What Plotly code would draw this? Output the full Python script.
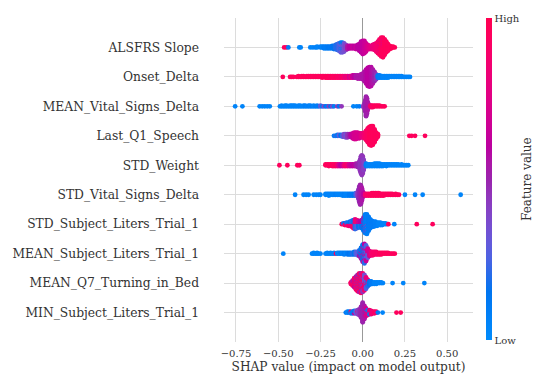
import math
import plotly.graph_objects as go

# ---------------- data ----------------
# each feature: list of (SHAP value, number of points at that value, feature value 0=low..1=high)
features = [
    "ALSFRS Slope", "Onset_Delta", "MEAN_Vital_Signs_Delta", "Last_Q1_Speech",
    "STD_Weight", "STD_Vital_Signs_Delta", "STD_Subject_Liters_Trial_1",
    "MEAN_Subject_Liters_Trial_1", "MEAN_Q7_Turning_in_Bed", "MIN_Subject_Liters_Trial_1",
]

alsfrs_slope = [
    (-0.465, 1, 0.95), (-0.452, 1, 0.95), (-0.440, 1, 0.10),
    (-0.375, 1, 0.05), (-0.367, 1, 0.05),
    (-0.310, 1, 0.05), (-0.295, 1, 0.05), (-0.280, 1, 0.08), (-0.270, 2, 0.05),
    (-0.250, 2, 0.08), (-0.240, 2, 0.05), (-0.230, 3, 0.10), (-0.220, 3, 0.08), (-0.210, 3, 0.10),
    (-0.200, 3, 0.12), (-0.190, 3, 0.10), (-0.180, 4, 0.15), (-0.170, 5, 0.15), (-0.160, 6, 0.20),
    (-0.150, 8, 0.20), (-0.140, 10, 0.25), (-0.130, 9, 0.30), (-0.130, 4, 0.10), (-0.120, 9, 0.32),
    (-0.120, 4, 0.12), (-0.110, 11, 0.35), (-0.100, 7, 0.40),
    (-0.090, 5, 0.55), (-0.080, 4, 0.60), (-0.070, 4, 0.60), (-0.060, 4, 0.65), (-0.050, 4, 0.60),
    (-0.040, 5, 0.65), (-0.030, 6, 0.60), (-0.020, 9, 0.60),
    (-0.010, 14, 0.60), (0.000, 17, 0.62), (0.010, 16, 0.65), (0.020, 11, 0.68),
    (0.030, 6, 0.72), (0.040, 5, 0.75), (0.050, 5, 0.78), (0.060, 6, 0.80), (0.070, 8, 0.82),
    (0.080, 11, 0.85), (0.090, 15, 0.88), (0.100, 16, 0.92), (0.100, 4, 0.70), (0.110, 24, 0.93),
    (0.120, 21, 0.95), (0.120, 4, 0.75), (0.130, 20, 0.95), (0.140, 14, 0.95), (0.150, 9, 0.95),
    (0.160, 5, 0.95), (0.170, 3, 0.97), (0.180, 2, 0.97), (0.190, 1, 0.97),
]

onset_delta = [
    (-0.473, 1, 0.95), (-0.430, 1, 0.95), (-0.420, 1, 0.95), (-0.410, 1, 0.95),
    (-0.390, 1, 0.95), (-0.380, 2, 0.95), (-0.370, 1, 0.95), (-0.360, 2, 0.95), (-0.350, 2, 0.95),
    (-0.340, 1, 0.95), (-0.330, 2, 0.95), (-0.320, 2, 0.95), (-0.310, 2, 0.95), (-0.300, 2, 0.95),
    (-0.290, 2, 0.95), (-0.280, 2, 0.95), (-0.270, 2, 0.95), (-0.260, 2, 0.95), (-0.250, 2, 0.95),
    (-0.240, 3, 0.95), (-0.230, 2, 0.95), (-0.220, 3, 0.95), (-0.210, 3, 0.95), (-0.200, 3, 0.95),
    (-0.190, 3, 0.92), (-0.180, 3, 0.95), (-0.170, 3, 0.92), (-0.160, 3, 0.95), (-0.150, 3, 0.90),
    (-0.140, 3, 0.92), (-0.130, 3, 0.88), (-0.120, 3, 0.90), (-0.110, 3, 0.85), (-0.100, 3, 0.80),
    (-0.090, 3, 0.85), (-0.080, 3, 0.70), (-0.070, 3, 0.80), (-0.060, 4, 0.65),
    (-0.050, 4, 0.60), (-0.040, 4, 0.55), (-0.030, 5, 0.55), (-0.020, 5, 0.55), (-0.010, 6, 0.55),
    (0.000, 8, 0.55), (0.010, 12, 0.55), (0.020, 18, 0.58), (0.030, 23, 0.60), (0.040, 25, 0.60),
    (0.050, 24, 0.58), (0.060, 18, 0.55), (0.070, 12, 0.50), (0.080, 7, 0.45),
    (0.090, 4, 0.10), (0.100, 4, 0.08), (0.110, 3, 0.08), (0.120, 3, 0.05), (0.130, 3, 0.05),
    (0.140, 3, 0.05), (0.150, 3, 0.05), (0.160, 2, 0.05), (0.170, 2, 0.05), (0.180, 2, 0.05),
    (0.190, 2, 0.05), (0.200, 2, 0.05), (0.210, 2, 0.05), (0.220, 2, 0.05), (0.230, 2, 0.05),
    (0.240, 1, 0.05), (0.250, 1, 0.05), (0.260, 1, 0.05), (0.270, 1, 0.05), (0.280, 1, 0.05),
]

mean_vital_signs_delta = [
    (-0.755, 1, 0.05), (-0.712, 1, 0.05),
    (-0.610, 1, 0.05), (-0.595, 1, 0.05), (-0.580, 1, 0.05), (-0.565, 1, 0.05), (-0.550, 1, 0.05),
    (-0.490, 1, 0.05), (-0.480, 2, 0.05), (-0.470, 1, 0.05), (-0.460, 2, 0.05), (-0.450, 2, 0.05),
    (-0.440, 1, 0.05), (-0.430, 2, 0.05), (-0.420, 2, 0.05), (-0.410, 2, 0.05), (-0.400, 2, 0.05),
    (-0.390, 1, 0.05), (-0.380, 2, 0.05), (-0.370, 2, 0.05), (-0.360, 1, 0.05), (-0.350, 2, 0.05),
    (-0.340, 2, 0.08), (-0.330, 1, 0.05), (-0.320, 2, 0.08), (-0.310, 2, 0.05), (-0.300, 1, 0.10),
    (-0.290, 2, 0.05), (-0.280, 1, 0.10), (-0.270, 2, 0.08), (-0.260, 1, 0.10), (-0.250, 2, 0.30),
    (-0.240, 1, 0.10), (-0.230, 1, 0.40), (-0.220, 1, 0.15), (-0.210, 1, 0.10), (-0.200, 1, 0.45),
    (-0.190, 1, 0.15), (-0.180, 1, 0.40), (-0.170, 1, 0.10), (-0.150, 1, 0.45), (-0.140, 1, 0.15),
    (-0.125, 1, 0.45),
    (-0.055, 1, 0.05), (-0.035, 1, 0.05), (-0.020, 1, 0.10),
    (0.005, 3, 0.45), (0.010, 6, 0.45), (0.015, 14, 0.50), (0.020, 25, 0.50), (0.025, 20, 0.52),
    (0.030, 10, 0.55), (0.035, 4, 0.55),
    (0.045, 2, 0.85), (0.050, 3, 0.90), (0.060, 3, 0.92), (0.070, 2, 0.95), (0.080, 2, 0.95),
    (0.090, 2, 0.95), (0.100, 2, 0.95), (0.110, 1, 0.95), (0.120, 1, 0.95), (0.130, 1, 0.95),
]

last_q1_speech = [
    (-0.170, 1, 0.10), (-0.160, 1, 0.20), (-0.150, 2, 0.10), (-0.140, 2, 0.30), (-0.130, 2, 0.15),
    (-0.120, 3, 0.25), (-0.110, 4, 0.40), (-0.100, 5, 0.35), (-0.090, 5, 0.45), (-0.080, 4, 0.50),
    (-0.070, 4, 0.60), (-0.060, 7, 0.65), (-0.050, 9, 0.70), (-0.040, 9, 0.70), (-0.030, 8, 0.72),
    (-0.020, 7, 0.70), (-0.010, 6, 0.75),
    (0.000, 6, 0.80), (0.010, 8, 0.85), (0.020, 12, 0.90), (0.030, 18, 0.92), (0.040, 23, 0.95),
    (0.050, 25, 0.95), (0.060, 24, 0.95), (0.070, 17, 0.95), (0.080, 9, 0.95), (0.090, 4, 0.95),
    (0.276, 1, 0.95), (0.290, 1, 0.95), (0.310, 1, 0.95), (0.369, 1, 0.95),
]

std_weight = [
    (-0.493, 1, 0.95), (-0.446, 1, 0.95), (-0.387, 1, 0.95), (-0.375, 1, 0.95),
    (-0.220, 2, 0.95), (-0.210, 2, 0.95), (-0.200, 3, 0.95), (-0.190, 2, 0.95), (-0.180, 3, 0.95),
    (-0.170, 3, 0.92), (-0.160, 3, 0.95), (-0.150, 3, 0.85), (-0.140, 3, 0.70), (-0.130, 3, 0.60),
    (-0.120, 3, 0.65), (-0.110, 3, 0.80), (-0.100, 3, 0.90), (-0.090, 3, 0.85), (-0.080, 3, 0.70),
    (-0.070, 3, 0.65), (-0.060, 3, 0.60), (-0.050, 3, 0.62), (-0.040, 4, 0.55), (-0.030, 5, 0.50),
    (-0.020, 8, 0.48), (-0.015, 15, 0.45), (-0.010, 22, 0.45), (-0.005, 25, 0.45), (0.000, 22, 0.45),
    (0.005, 14, 0.42), (0.010, 6, 0.40),
    (0.020, 4, 0.08), (0.030, 3, 0.05), (0.040, 3, 0.05), (0.050, 3, 0.05), (0.060, 3, 0.05),
    (0.070, 4, 0.05), (0.080, 4, 0.05), (0.090, 4, 0.05), (0.100, 4, 0.05), (0.110, 3, 0.05),
    (0.120, 3, 0.05), (0.130, 2, 0.05), (0.140, 3, 0.05), (0.150, 2, 0.05), (0.160, 2, 0.05),
    (0.170, 2, 0.05), (0.180, 2, 0.05), (0.190, 2, 0.05), (0.200, 2, 0.05), (0.210, 2, 0.05),
    (0.220, 1, 0.05), (0.230, 2, 0.05), (0.240, 1, 0.05), (0.250, 1, 0.05), (0.260, 1, 0.05),
    (0.270, 1, 0.05),
]

std_vital_signs_delta = [
    (-0.400, 1, 0.05), (-0.350, 1, 0.05), (-0.335, 1, 0.05), (-0.320, 1, 0.05), (-0.290, 1, 0.05),
    (-0.275, 1, 0.05), (-0.260, 1, 0.05), (-0.250, 1, 0.05),
    (-0.220, 2, 0.05), (-0.210, 2, 0.05), (-0.200, 3, 0.05), (-0.190, 2, 0.05), (-0.180, 2, 0.05),
    (-0.170, 2, 0.05), (-0.160, 2, 0.08), (-0.150, 2, 0.05), (-0.140, 2, 0.05), (-0.130, 2, 0.05),
    (-0.120, 3, 0.05), (-0.110, 3, 0.08), (-0.100, 3, 0.05), (-0.090, 3, 0.05), (-0.080, 3, 0.10),
    (-0.070, 3, 0.10), (-0.060, 3, 0.12), (-0.050, 3, 0.15), (-0.040, 4, 0.25),
    (-0.030, 6, 0.40), (-0.025, 12, 0.45), (-0.020, 20, 0.48), (-0.015, 25, 0.50), (-0.010, 23, 0.52),
    (-0.005, 16, 0.55), (0.000, 8, 0.55), (0.005, 4, 0.60),
    (0.015, 3, 0.85), (0.025, 3, 0.90), (0.035, 3, 0.92), (0.045, 3, 0.95), (0.055, 4, 0.95),
    (0.065, 4, 0.95), (0.075, 4, 0.95), (0.085, 4, 0.95), (0.095, 4, 0.95), (0.105, 3, 0.95),
    (0.115, 3, 0.95), (0.125, 3, 0.95), (0.135, 2, 0.95), (0.145, 2, 0.95), (0.155, 2, 0.95),
    (0.165, 2, 0.95), (0.175, 2, 0.95), (0.185, 1, 0.95), (0.195, 2, 0.95), (0.205, 1, 0.95),
    (0.215, 1, 0.95),
    (0.250, 1, 0.05), (0.310, 1, 0.05), (0.355, 1, 0.05), (0.580, 1, 0.05),
]

std_subject_liters_trial_1 = [
    (-0.124, 1, 0.95),
    (-0.115, 1, 0.95), (-0.115, 1, 0.20), (-0.105, 2, 0.90), (-0.105, 1, 0.15),
    (-0.095, 2, 0.85), (-0.095, 2, 0.20), (-0.085, 3, 0.90), (-0.085, 2, 0.10),
    (-0.075, 3, 0.80), (-0.075, 3, 0.15), (-0.065, 4, 0.85), (-0.065, 4, 0.20),
    (-0.055, 6, 0.90), (-0.055, 5, 0.15), (-0.045, 6, 0.80), (-0.045, 7, 0.20),
    (-0.035, 5, 0.85), (-0.035, 6, 0.25), (-0.025, 4, 0.70), (-0.025, 5, 0.15),
    (-0.015, 4, 0.60), (-0.015, 5, 0.20), (-0.005, 5, 0.60), (-0.005, 6, 0.15),
    (0.005, 5, 0.50), (0.005, 12, 0.15), (0.015, 4, 0.45), (0.015, 20, 0.10),
    (0.025, 3, 0.40), (0.025, 22, 0.08), (0.035, 18, 0.10), (0.045, 12, 0.10),
    (0.055, 8, 0.10), (0.065, 7, 0.10), (0.075, 6, 0.08), (0.085, 5, 0.08), (0.095, 4, 0.05),
    (0.105, 4, 0.05), (0.115, 3, 0.05), (0.125, 2, 0.05), (0.135, 2, 0.05), (0.145, 1, 0.05),
    (0.152, 1, 0.95), (0.187, 1, 0.05), (0.320, 1, 0.95), (0.414, 1, 0.95),
]

mean_subject_liters_trial_1 = [
    (-0.470, 1, 0.05),
    (-0.300, 1, 0.05), (-0.290, 2, 0.05), (-0.280, 1, 0.05), (-0.270, 2, 0.05), (-0.260, 1, 0.05),
    (-0.250, 1, 0.05),
    (-0.220, 1, 0.05), (-0.210, 2, 0.05), (-0.200, 1, 0.05), (-0.190, 2, 0.05), (-0.180, 1, 0.05),
    (-0.170, 2, 0.05), (-0.158, 1, 0.95),
    (-0.150, 2, 0.05), (-0.140, 2, 0.05), (-0.130, 2, 0.10), (-0.120, 2, 0.05), (-0.110, 3, 0.10),
    (-0.100, 2, 0.05), (-0.090, 3, 0.10), (-0.080, 3, 0.15), (-0.070, 3, 0.10), (-0.060, 3, 0.20),
    (-0.050, 4, 0.15), (-0.040, 4, 0.25), (-0.030, 5, 0.30),
    (-0.020, 6, 0.20), (-0.020, 2, 0.60), (-0.010, 10, 0.15), (-0.010, 4, 0.55),
    (0.000, 14, 0.15), (0.000, 8, 0.55), (0.010, 15, 0.20), (0.010, 10, 0.60),
    (0.020, 12, 0.25), (0.020, 8, 0.65), (0.030, 6, 0.30), (0.030, 6, 0.70), (0.040, 7, 0.70),
    (0.050, 5, 0.85), (0.060, 5, 0.90), (0.070, 4, 0.90), (0.080, 4, 0.92), (0.090, 3, 0.90),
    (0.100, 3, 0.95), (0.110, 3, 0.95), (0.120, 2, 0.95), (0.130, 2, 0.95), (0.140, 2, 0.95),
    (0.150, 2, 0.95), (0.160, 1, 0.95), (0.170, 1, 0.95), (0.180, 1, 0.95), (0.190, 1, 0.95),
]

mean_q7_turning_in_bed = [
    (-0.070, 3, 0.90), (-0.060, 5, 0.90), (-0.060, 2, 0.55), (-0.050, 8, 0.92), (-0.050, 4, 0.60),
    (-0.040, 11, 0.90), (-0.040, 6, 0.55), (-0.030, 14, 0.90), (-0.030, 7, 0.50),
    (-0.020, 16, 0.92), (-0.020, 8, 0.55), (-0.010, 16, 0.90), (-0.010, 9, 0.50),
    (0.000, 14, 0.88), (0.000, 10, 0.45), (0.010, 10, 0.85), (0.010, 10, 0.35),
    (0.020, 6, 0.80), (0.020, 9, 0.25), (0.030, 3, 0.80), (0.030, 6, 0.20), (0.040, 5, 0.15),
    (0.050, 4, 0.10), (0.060, 3, 0.10), (0.070, 3, 0.05), (0.080, 3, 0.05), (0.090, 2, 0.05),
    (0.100, 2, 0.05), (0.110, 2, 0.05), (0.120, 1, 0.05),
    (0.177, 1, 0.05), (0.240, 1, 0.05), (0.365, 1, 0.05),
]

min_subject_liters_trial_1 = [
    (-0.100, 1, 0.10), (-0.090, 2, 0.05), (-0.080, 2, 0.10), (-0.070, 2, 0.20), (-0.070, 1, 0.90),
    (-0.060, 3, 0.10), (-0.050, 3, 0.15), (-0.050, 1, 0.60), (-0.040, 4, 0.30), (-0.030, 5, 0.40),
    (-0.030, 1, 0.90), (-0.020, 8, 0.45), (-0.010, 14, 0.50),
    (0.000, 25, 0.50), (0.010, 17, 0.55),
    (0.020, 8, 0.70), (0.020, 2, 0.15), (0.030, 5, 0.75), (0.030, 2, 0.10), (0.040, 4, 0.80),
    (0.040, 2, 0.10), (0.050, 4, 0.85), (0.050, 1, 0.10), (0.060, 3, 0.85), (0.070, 3, 0.90),
    (0.080, 2, 0.90), (0.090, 1, 0.10),
    (0.118, 1, 0.05), (0.200, 1, 0.95), (0.225, 1, 0.95),
]

rows = [alsfrs_slope, onset_delta, mean_vital_signs_delta, last_q1_speech, std_weight,
        std_vital_signs_delta, std_subject_liters_trial_1, mean_subject_liters_trial_1,
        mean_q7_turning_in_bed, min_subject_liters_trial_1]

x_ticks = [-0.75, -0.5, -0.25, 0.0, 0.25, 0.5]


# ---------------- SHAP red_blue colormap (LCH interpolation) ----------------
def lab_to_hex(L, a, b):
    fy = (L + 16) / 116
    fx = fy + a / 500
    fz = fy - b / 200

    def finv(t):
        return t ** 3 if t > 6 / 29 else 3 * (6 / 29) ** 2 * (t - 4 / 29)

    X, Y, Z = 0.95047 * finv(fx), finv(fy), 1.08883 * finv(fz)
    r = 3.2404542 * X - 1.5371385 * Y - 0.4985314 * Z
    g = -0.9692660 * X + 1.8760108 * Y + 0.0415560 * Z
    bb = 0.0556434 * X - 0.2040259 * Y + 1.0572252 * Z

    def gam(u):
        u = u * 12.92 if u <= 0.0031308 else 1.055 * (max(u, 0) ** (1 / 2.4)) - 0.055
        return int(round(255 * min(1, max(0, u))))

    return "rgb(%d,%d,%d)" % (gam(r), gam(g), gam(bb))


blue_lch = (54.0, 70.0, 4.6588)
red_lch = (54.0, 90.0, 0.35470565 + 2 * math.pi)
l_mid = 40.0
colorscale = []
nst = 21
for i in range(nst):
    t = i / (nst - 1)
    L = blue_lch[0] + (l_mid - blue_lch[0]) * (t / 0.5) if t <= 0.5 else l_mid + (red_lch[0] - l_mid) * ((t - 0.5) / 0.5)
    C = blue_lch[1] + (red_lch[1] - blue_lch[1]) * t
    H = blue_lch[2] + (red_lch[2] - blue_lch[2]) * t
    colorscale.append([t, lab_to_hex(L, C * math.cos(H), C * math.sin(H))])


# ---------------- beeswarm layout (SHAP style stacking per bin) ----------------
def swarm(row, pos, row_height=0.4):
    bins = {}
    for x, n, c in row:
        bins.setdefault(x, []).append((n, c))
    xs, offs, cs = [], [], []
    for x in sorted(bins):
        seq = []
        for gi, (n, c) in enumerate(bins[x]):
            for i in range(n):
                seq.append(((i + 0.5) / n, gi, c))
        seq.sort()
        for layer, (_, _, c) in enumerate(seq):
            offs.append(math.ceil(layer / 2) * ((layer % 2) * 2 - 1))
            xs.append(x)
            cs.append(c)
    m = max(o + 1 for o in offs)
    ys = [pos + o * 0.9 * (row_height / m) for o in offs]
    return xs, ys, cs


all_x, all_y, all_c = [], [], []
nfeat = len(features)
for k, row in enumerate(rows):
    xs, ys, cs = swarm(row, nfeat - 1 - k)
    all_x += xs
    all_y += ys
    all_c += cs

FONT = "DejaVu Serif"
TXT = "#333333"

fig = go.Figure()
fig.add_trace(go.Scatter(
    x=all_x, y=all_y, mode="markers", hoverinfo="skip",
    marker=dict(
        size=4.8, color=all_c, cmin=0, cmax=1, colorscale=colorscale, line=dict(width=0),
        showscale=True,
        colorbar=dict(
            thickness=6, len=322, lenmode="pixels", x=1.0522, xanchor="left", xpad=0,
            y=0.503, yanchor="middle", ypad=0, outlinewidth=0,
            tickvals=[0, 1], ticktext=["Low", "High"], ticks="",
            tickfont=dict(family=FONT, size=10, color=TXT),
        ),
    ),
    showlegend=False,
))

fig.add_annotation(
    text="Feature value", xref="paper", yref="paper", x=(527 - 224) / 249, y=0.503,
    textangle=-90, showarrow=False, xanchor="center", yanchor="middle",
    font=dict(family=FONT, size=12, color=TXT),
)

fig.update_layout(
    width=533, height=374,
    margin=dict(l=224, r=60, t=18, b=32),
    paper_bgcolor="white", plot_bgcolor="white",
    font=dict(family=FONT, color=TXT),
    xaxis=dict(
        range=[-0.821, 0.653], tickvals=x_ticks, tickformat=".2f", automargin=False,
        showgrid=True, gridcolor="#dcdcdc", gridwidth=1.3,
        zeroline=True, zerolinecolor="#999999", zerolinewidth=1,
        showline=False, ticks="", ticklabelstandoff=4,
        tickfont=dict(family=FONT, size=10, color=TXT),
        title=dict(text="SHAP value (impact on model output)", font=dict(family=FONT, size=12.2, color=TXT), standoff=4),
    ),
    yaxis=dict(
        range=[-1, nfeat], tickvals=list(range(nfeat)), ticktext=features[::-1], automargin=False,
        showgrid=True, gridcolor="#dcdcdc", gridwidth=1.3,
        zeroline=False, showline=False, ticks="",
        ticklabelstandoff=24,
        tickfont=dict(family=FONT, size=12.3, color=TXT),
    ),
)

fig.write_html("out.html")
